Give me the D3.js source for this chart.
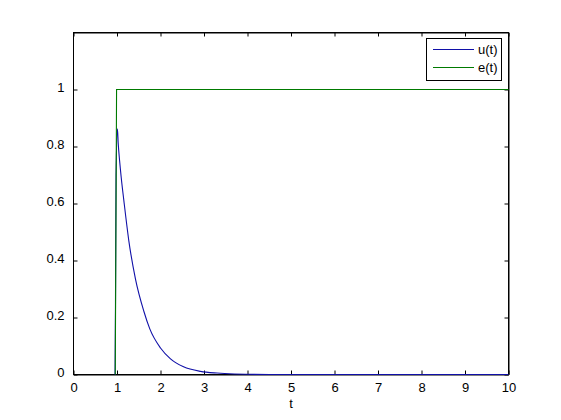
<!DOCTYPE html>
<html>
<head>
<meta charset="utf-8">
<script src="https://cdn.jsdelivr.net/npm/d3@7"></script>
<style>
  html, body { margin: 0; padding: 0; background: #ffffff; }
  svg { display: block; }
  text { font-family: Arial, "Liberation Sans", Helvetica, sans-serif; }
</style>
</head>
<body>
<svg id="chart" width="561" height="420"></svg>
<script>
// ---- data ----
const uT = [0.955, 0.965, 0.978, 1.01, 1.028, 1.06, 1.097, 1.157, 1.271, 1.425, 1.617, 1.754, 2.0, 2.23, 2.53, 2.92, 3.3, 3.7, 4.5, 10];
const uV = [0, 0.24, 0.70, 0.862, 0.811, 0.75, 0.691, 0.611, 0.470, 0.335, 0.222, 0.160, 0.093, 0.055, 0.027, 0.011, 0.005, 0.002, 0, 0];
const eT = [0.96, 0.99, 10];
const eV = [0, 1, 1];
const xTicks = [0, 1, 2, 3, 4, 5, 6, 7, 8, 9, 10];
const yTicks = [0, 0.2, 0.4, 0.6, 0.8, 1];
const seriesNames = ["u(t)", "e(t)"];
const seriesColors = ["#1010a8", "#007a00"];

const svg = d3.select("#chart");
const L = 73, R = 508, T = 32, B = 374;
const x = d3.scaleLinear().domain([0, 10]).range([L, R]);
const y = d3.scaleLinear().domain([0, 1.2]).range([B, T]);

const uData = uT.map((t, i) => [t, uV[i]]);
const eData = eT.map((t, i) => [t, eV[i]]);

svg.append("rect")
  .attr("x", L + 0.5).attr("y", T + 0.5)
  .attr("width", R - L).attr("height", B - T)
  .attr("fill", "#fff").attr("stroke", "#000").attr("stroke-width", 1);

const tickLen = 4;
const fmt = d => d3.format("")(+d.toFixed(1));

const xb = d3.axisBottom(x).tickValues(xTicks).tickSizeInner(-tickLen).tickSizeOuter(0).tickPadding(8).tickFormat(fmt);
const gxb = svg.append("g").attr("transform", `translate(0.5,${B + 0.5})`).call(xb);
const xt = d3.axisTop(x).tickValues(xTicks).tickSizeInner(-tickLen).tickSizeOuter(0).tickFormat("");
const gxt = svg.append("g").attr("transform", `translate(0.5,${T + 0.5})`).call(xt);
const yl = d3.axisLeft(y).tickValues(yTicks).tickSizeInner(-tickLen).tickSizeOuter(0).tickPadding(9).tickFormat(fmt);
const gyl = svg.append("g").attr("transform", `translate(${L + 0.5},-1.5)`).call(yl);
gyl.select(".domain").remove();
gyl.selectAll(".tick line").attr("transform", "translate(0,2)");
const yr = d3.axisRight(y).tickValues(yTicks).tickSizeInner(-tickLen).tickSizeOuter(0).tickFormat("");
const gyr = svg.append("g").attr("transform", `translate(${R + 0.5},0.5)`).call(yr);

[gxb, gxt, gyl, gyr].forEach(g => {
  g.select(".domain").attr("stroke", "#000");
  g.selectAll(".tick line").attr("stroke", "#000");
  g.selectAll("text").attr("fill", "#000").style("font-size", "13px")
    .style("font-family", "Arial, 'Liberation Sans', Helvetica, sans-serif");
});

svg.append("text")
  .attr("x", (L + R) / 2 + 0.5).attr("y", 408)
  .attr("text-anchor", "middle")
  .style("font-size", "13px").attr("fill", "#000")
  .text("t");

const line = d3.line().x(d => x(d[0]) + 0.5).y(d => y(d[1]) + 0.5);
svg.append("path").datum(uData)
  .attr("d", line.curve(d3.curveMonotoneX)).attr("fill", "none")
  .attr("stroke", seriesColors[0]).attr("stroke-width", 1.1);
svg.append("path").datum(eData)
  .attr("d", line.curve(d3.curveLinear)).attr("fill", "none")
  .attr("stroke", seriesColors[1]).attr("stroke-width", 1.1);

const lg = svg.append("g");
lg.append("rect")
  .attr("x", 426.5).attr("y", 38.5).attr("width", 75).attr("height", 42)
  .attr("fill", "#fff").attr("stroke", "#000").attr("stroke-width", 1);
seriesNames.forEach((name, i) => {
  const yy = 49.5 + i * 18;
  lg.append("line")
    .attr("x1", 433).attr("x2", 474).attr("y1", yy).attr("y2", yy)
    .attr("stroke", seriesColors[i]).attr("stroke-width", 1.1);
  lg.append("text")
    .attr("x", 478).attr("y", yy + 4.5)
    .style("font-size", "13px").attr("fill", "#000")
    .text(name);
});
</script>
</body>
</html>
